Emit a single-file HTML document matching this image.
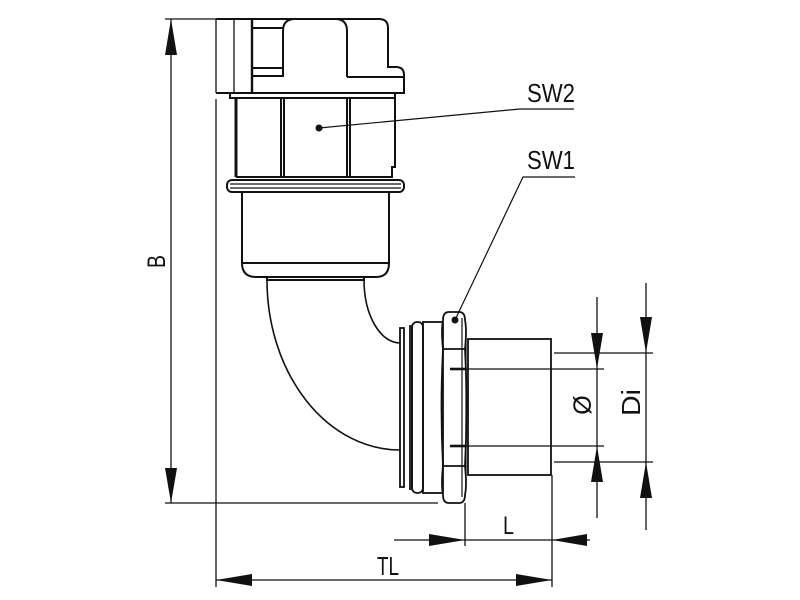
<!DOCTYPE html>
<html><head><meta charset="utf-8">
<style>html,body{margin:0;padding:0;background:#fff;}svg{display:block}</style>
</head>
<body>
<svg width="800" height="600" viewBox="0 0 800 600" xmlns="http://www.w3.org/2000/svg">
<rect width="800" height="600" fill="#fff"/>
<!-- dimension / extension lines -->
<g fill="none" stroke="#111" stroke-width="1.3">
<line x1="165" y1="19" x2="216" y2="19"/>
<line x1="171" y1="19" x2="171" y2="503"/>
<line x1="165" y1="503" x2="438" y2="503"/>
<line x1="216" y1="99" x2="216" y2="587"/>
<line x1="216" y1="580" x2="552" y2="580"/>
<line x1="552" y1="475" x2="552" y2="587"/>
<line x1="465" y1="503" x2="465" y2="546"/>
<line x1="394" y1="540" x2="590" y2="540"/>
<line x1="597" y1="297" x2="597" y2="518"/>
<line x1="646" y1="283" x2="646" y2="530"/>
<line x1="554" y1="353" x2="653" y2="353"/>
<line x1="554" y1="462" x2="653" y2="462"/>
<line x1="465" y1="369" x2="604" y2="369"/>
<line x1="465" y1="446" x2="604" y2="446"/>
</g>
<g fill="#111" stroke="none">
<polygon points="171,19 165,55 177,55"/>
<polygon points="171,503 165,468 177,468"/>
<polygon points="216,580 252,574 252,586"/>
<polygon points="552,580 516,574 516,586"/>
<polygon points="465,540 429,534 429,546"/>
<polygon points="552,540 587,534 587,546"/>
<polygon points="597,369 591,333 603,333"/>
<polygon points="597,446 591,482 603,482"/>
<polygon points="646,353 640,317 652,317"/>
<polygon points="646,462 640,498 652,498"/>
</g>

<!-- cap -->
<g fill="none" stroke="#111" stroke-width="2">
<path d="M216,19 H379 Q388,19 388,28 V67 H396 Q404,67 404,75 V93 H216"/>
<line x1="216" y1="19" x2="216" y2="93" stroke-width="1.3"/>
<line x1="234" y1="19" x2="234" y2="93" stroke-width="1.3"/>
<line x1="252" y1="19" x2="252" y2="93" stroke-width="2.4"/>
<path d="M283,77 V31 Q283,19 295,19"/>
<path d="M347,77 V31 Q347,19 335,19"/>
<line x1="252" y1="28" x2="283" y2="28"/>
<line x1="252" y1="68" x2="283" y2="68"/>
<line x1="252" y1="76" x2="283" y2="76"/>
<line x1="347" y1="77" x2="404" y2="77"/>
<!-- band -->
<path d="M230,93 V98 H395 V93"/>
<!-- hex SW2 -->
<line x1="236" y1="98" x2="236" y2="177" stroke-width="3"/>
<path d="M395,98 V167 H392 V178"/>
<line x1="281" y1="98" x2="281" y2="177"/>
<line x1="284" y1="98" x2="284" y2="177"/>
<line x1="347" y1="98" x2="347" y2="177"/>
<line x1="350" y1="98" x2="350" y2="177"/>
<line x1="236" y1="177" x2="392" y2="177"/>
<!-- flange -->
<rect x="227" y="180" width="177" height="12" rx="5"/>
<line x1="230" y1="184" x2="401" y2="184" stroke-width="1.3"/>
<line x1="230" y1="188" x2="401" y2="188" stroke-width="1.3"/>
<!-- body -->
<path d="M242,192 V263 Q242,277 256,277 H376 Q389,277 389,263 V192"/>
<line x1="242" y1="263" x2="389" y2="263"/>
<path d="M267,277 V280 H364 V277"/>
</g>
<!-- elbow -->
<g fill="none" stroke="#111" stroke-width="1.6">
<path d="M267,280 A133,170 0 0 0 400,450"/>
<path d="M364,280 A36,63 0 0 0 400,343"/>
</g>
<!-- right fitting -->
<g fill="none" stroke="#111" stroke-width="1.8">
<rect x="400" y="328" width="4" height="159"/>
<line x1="410" y1="325" x2="410" y2="490"/>
<line x1="412" y1="325" x2="412" y2="490"/>
<rect x="412" y="322" width="11" height="171" rx="5"/>
<rect x="423" y="322" width="20" height="171"/>
<path d="M449,312 H459 Q465,312 465,320 Q467,330 465,349 Q468,407 465,466 Q467,485 465,495 Q465,503 459,503 H449 Q443,503 443,495 Q441,485 443,466 Q440,407 443,349 Q441,330 443,320 Q443,312 449,312 Z"/>
<line x1="443" y1="349" x2="465" y2="349"/>
<line x1="443" y1="466" x2="465" y2="466"/>
<line x1="462" y1="318" x2="462" y2="497" stroke-width="1.2"/>
<rect x="468" y="339" width="83" height="136"/>
<line x1="466" y1="339" x2="466" y2="475" stroke-width="1.2"/>
<line x1="450" y1="369" x2="466" y2="369" stroke-width="2.6"/>
<line x1="450" y1="446" x2="466" y2="446" stroke-width="2.6"/>
</g>
<!-- leaders -->
<g fill="none" stroke="#111" stroke-width="1.2">
<polyline points="319,128 520,109 574,109"/>
<polyline points="455,320 523,177 575,177"/>
</g>
<circle cx="319" cy="128" r="3.5" fill="#111"/>
<circle cx="455" cy="320" r="3.5" fill="#111"/>

<!-- labels -->
<g fill="#111" font-family="Liberation Sans, DejaVu Sans, sans-serif">
<text x="527" y="102" font-size="26" textLength="48" lengthAdjust="spacingAndGlyphs">SW2</text>
<text x="527" y="169" font-size="26" textLength="48" lengthAdjust="spacingAndGlyphs">SW1</text>
<text x="503" y="534" font-size="25" textLength="11" lengthAdjust="spacingAndGlyphs">L</text>
<text x="377" y="575" font-size="26" textLength="22" lengthAdjust="spacingAndGlyphs">TL</text>
<text transform="translate(165,268) rotate(-90)" x="0" y="0" font-size="25" textLength="13" lengthAdjust="spacingAndGlyphs">B</text>
<text transform="translate(640,416) rotate(-90)" x="0" y="0" font-size="26" textLength="27" lengthAdjust="spacingAndGlyphs">Di</text>
<text transform="translate(582,405) rotate(-90)" x="0" y="9" font-size="25" text-anchor="middle">Ø</text>
</g>
</svg>
</body>
</html>
